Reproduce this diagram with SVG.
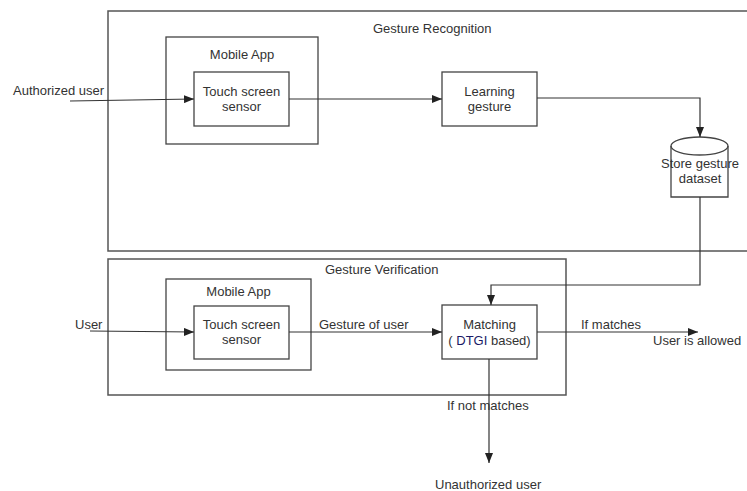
<svg xmlns="http://www.w3.org/2000/svg" width="747" height="491" viewBox="0 0 747 491">
<defs>
<marker id="arr" viewBox="0 0 10 8" refX="10" refY="4" markerWidth="10" markerHeight="8" markerUnits="userSpaceOnUse" orient="auto">
<path d="M0,0 L10,4 L0,8 z" fill="#222"/>
</marker>
<style>
text{font-family:"Liberation Sans",Arial,sans-serif;font-size:13px;fill:#333}
.c{text-anchor:middle}
.box{fill:none;stroke:#444;stroke-width:1.3}
.outer{fill:none;stroke:#555;stroke-width:1.5}
.ln{fill:none;stroke:#333;stroke-width:1.2}
.ar{marker-end:url(#arr)}
</style>
</defs>
<rect width="747" height="491" fill="#fff"/>

<g id="gesture-recognition">
<path class="outer" d="M747,11 H108 V251 H747"/>
<text x="373" y="33">Gesture Recognition</text>
</g>
<g id="gesture-verification">
<rect class="outer" x="108" y="259" width="458" height="136"/>
<text x="325" y="274">Gesture Verification</text>
</g>
<g id="mobile-app-1">
<rect class="box" x="166" y="37" width="152" height="107"/>
<text class="c" x="242" y="59">Mobile App</text>
</g>
<g id="touch-sensor-1">
<rect class="box" x="194" y="72" width="95" height="54"/>
<text class="c" x="241.5" y="96">Touch screen</text>
<text class="c" x="241.5" y="111">sensor</text>
</g>
<g id="learning-gesture">
<rect class="box" x="442" y="72" width="95" height="54"/>
<text class="c" x="489.5" y="96">Learning</text>
<text class="c" x="489.5" y="111">gesture</text>
</g>
<g id="store-dataset">
<path class="box" d="M671,146 V197 H728 V146"/>
<ellipse class="box" cx="699.5" cy="146" rx="28.5" ry="9"/>
<text class="c" x="700" y="168">Store gesture</text>
<text class="c" x="700" y="183">dataset</text>
</g>
<g id="mobile-app-2">
<rect class="box" x="166" y="279" width="145" height="91"/>
<text class="c" x="238.5" y="296">Mobile App</text>
</g>
<g id="touch-sensor-2">
<rect class="box" x="194" y="306" width="95" height="53"/>
<text class="c" x="241.5" y="329">Touch screen</text>
<text class="c" x="241.5" y="344">sensor</text>
</g>
<g id="matching">
<rect class="box" x="442" y="305" width="95" height="54"/>
<text class="c" x="489.5" y="329">Matching</text>
<text class="c" x="489.5" y="345">( <tspan fill="#1a1a66">DTGI</tspan> based)</text>
</g>

<g id="labels">
<text x="13" y="95">Authorized user</text>
<text x="75" y="329">User</text>
<text x="319" y="329">Gesture of user</text>
<text x="581" y="329">If matches</text>
<text x="653" y="345">User is allowed</text>
<text x="447" y="410">If not matches</text>
<text x="435" y="489">Unauthorized user</text>
</g>

<g id="connectors">
<path class="ln ar" d="M70,101 L194,99"/>
<path class="ln ar" d="M289,99 H442"/>
<path class="ln ar" d="M537,98 H700 V137"/>
<path class="ln ar" d="M700,197 V285 H491 V305"/>
<path class="ln ar" d="M90,331 L194,332"/>
<path class="ln ar" d="M289,332 H442"/>
<path class="ln ar" d="M537,332 H698"/>
<path class="ln ar" d="M489,359 V463"/>
</g>
</svg>
